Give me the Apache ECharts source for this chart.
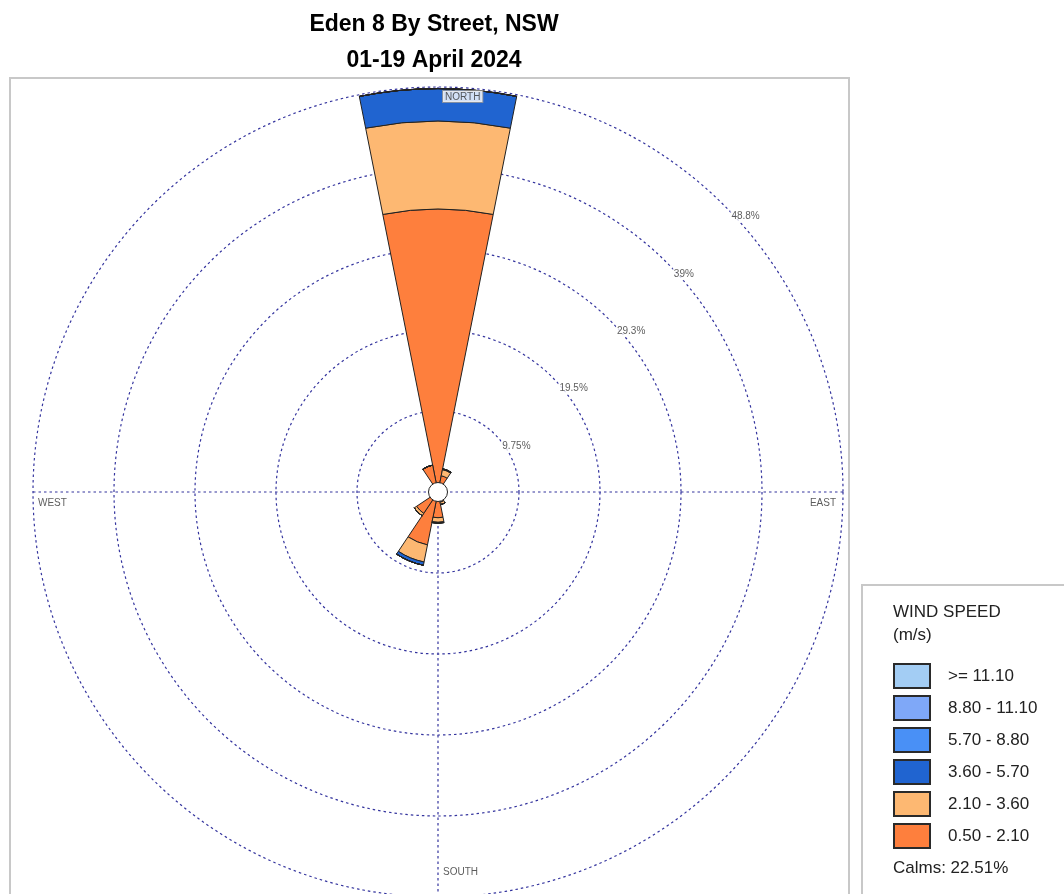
<!DOCTYPE html>
<html>
<head>
<meta charset="utf-8">
<script src="https://cdn.jsdelivr.net/npm/echarts@6/dist/echarts.min.js"></script>
<style>
html,body{margin:0;padding:0;background:#fff;}
#chart{width:1064px;height:894px;}
</style>
</head>
<body>
<div id="chart"></div>
<script>
// ---- data ----
const directions = ['N','NNE','NE','ENE','E','ESE','SE','SSE','S','SSW','SW','WSW','W','WNW','NW','NNW'];
const speedBins = ['0.50 - 2.10','2.10 - 3.60','3.60 - 5.70','5.70 - 8.80','8.80 - 11.10','>= 11.10'];
const bin050_210 = [34.1, 2.0, 0.6, 0.4, 0.4, 0.5, 0.6, 1.25, 3.1, 6.5, 3.1, 0.6, 0.4, 0.4, 0.5, 3.3];
const bin210_360 = [10.6, 0.75, 0, 0, 0, 0, 0, 0.3, 0.55, 2.1, 0.35, 0, 0, 0, 0, 0];
const bin360_570 = [3.9, 0.1, 0, 0, 0, 0, 0, 0, 0.1, 0.4, 0, 0, 0, 0, 0, 0];
const bin570_880 = [0, 0, 0, 0, 0, 0, 0, 0, 0, 0, 0, 0, 0, 0, 0, 0];
const bin880_1110 = [0, 0, 0, 0, 0, 0, 0, 0, 0, 0, 0, 0, 0, 0, 0, 0];
const bin1110_up = [0, 0, 0, 0, 0, 0, 0, 0, 0, 0, 0, 0, 0, 0, 0, 0];
const ringValues = [9.75, 19.5, 29.3, 39, 48.8];
const ringLabels = ['9.75%', '19.5%', '29.3%', '39%', '48.8%'];
const compassLabels = ['NORTH', 'EAST', 'SOUTH', 'WEST'];
const compassAngles = [0, 90, 180, 270];
const calmsText = 'Calms: 22.51%';
const titleLine1 = 'Eden 8 By Street, NSW';
const titleLine2 = '01-19 April 2024';

// ---- chart ----
const binData = [bin050_210, bin210_360, bin360_570, bin570_880, bin880_1110, bin1110_up];
const binColors = ['#fe7f3d', '#fdb872', '#2064d0', '#4990f6', '#7fa8f8', '#a3cdf4'];
const maxR = ringValues[ringValues.length - 1];
const ringStep = 9.76;
const CX = 438, CY = 492, RAD = 405;
const FONT = 'Liberation Sans, Arial, sans-serif';
const gridColor = '#34349e';

const chart = echarts.init(document.getElementById('chart'), null, {renderer: 'canvas'});

const barSeries = binData.map((d, i) => ({
  type: 'bar',
  name: speedBins[i],
  coordinateSystem: 'polar',
  polarIndex: 0,
  stack: 'wind',
  barCategoryGap: '0%',
  data: d,
  itemStyle: {color: binColors[i], borderColor: '#222', borderWidth: 1},
  emphasis: {disabled: true},
  z: 2
}));

const compassLabelCfg = [
  {position: [5, 4], align: 'left', verticalAlign: 'top', backgroundColor: '#fff', borderColor: '#999', borderWidth: 1, padding: [1, 2, 0, 2]},
  {position: [-7, 6], align: 'right', verticalAlign: 'top'},
  {position: [5, -30], align: 'left', verticalAlign: 'top'},
  {position: [5, 6], align: 'left', verticalAlign: 'top'}
];

const option = {
  animation: false,
  backgroundColor: '#fff',
  title: [
    {text: titleLine1, left: 429, top: 8, textAlign: 'center',
     textStyle: {fontFamily: FONT, fontWeight: 'bold', fontSize: 23, color: '#000'}},
    {text: titleLine2, left: 429, top: 44, textAlign: 'center',
     textStyle: {fontFamily: FONT, fontWeight: 'bold', fontSize: 23, color: '#000'}}
  ],
  polar: [
    {center: [CX, CY], radius: RAD},
    {center: [CX, CY], radius: RAD}
  ],
  angleAxis: [
    {polarIndex: 0, type: 'category', data: directions, startAngle: 90 + 360 / directions.length / 2,
     clockwise: true, boundaryGap: true,
     axisLine: {show: false}, axisTick: {show: false}, axisLabel: {show: false}, splitLine: {show: false}},
    {polarIndex: 1, type: 'value', min: 0, max: 360, interval: 90, startAngle: 90, clockwise: true,
     axisLine: {show: false}, axisTick: {show: false}, axisLabel: {show: false},
     splitLine: {show: true, lineStyle: {color: gridColor, width: 1.2, type: [2.5, 3]}}}
  ],
  radiusAxis: [
    {polarIndex: 0, type: 'value', min: 0, max: maxR,
     axisLine: {show: false}, axisTick: {show: false}, axisLabel: {show: false}, splitLine: {show: false}},
    {polarIndex: 1, type: 'value', min: 0, max: maxR, interval: ringStep,
     axisLine: {show: false}, axisTick: {show: false}, axisLabel: {show: false},
     splitLine: {show: true, lineStyle: {color: gridColor, width: 1.2, type: [2.5, 3]}}}
  ],
  legend: {
    orient: 'vertical',
    left: 888, top: 658,
    itemWidth: 36, itemHeight: 24, itemGap: 6,
    icon: 'rect',
    selectedMode: false,
    data: speedBins.slice().reverse(),
    itemStyle: {borderColor: '#2a2a2a', borderWidth: 2},
    textStyle: {fontFamily: FONT, fontSize: 17, color: '#222', padding: [0, 0, 0, 13]}
  },
  graphic: [
    {type: 'rect', shape: {x: 10, y: 78, width: 839, height: 840}, style: {fill: 'none', stroke: '#c8c8c8', lineWidth: 2}, z: 0},
    {type: 'rect', shape: {x: 862, y: 585, width: 220, height: 330}, style: {fill: 'none', stroke: '#c8c8c8', lineWidth: 2}, z: 0},
    {type: 'text', left: 893, top: 601, style: {text: 'WIND SPEED\n(m/s)', fontFamily: FONT, fontSize: 17, lineHeight: 23, fill: '#222'}},
    {type: 'text', left: 893, top: 860, style: {text: calmsText, fontFamily: FONT, fontSize: 17, fill: '#222'}}
  ],
  series: barSeries.concat([
    {
      type: 'scatter', coordinateSystem: 'polar', polarIndex: 1,
      data: [[0, 0]], symbol: 'circle', symbolSize: 19,
      itemStyle: {color: '#ffffff', borderColor: '#222', borderWidth: 1, opacity: 1},
      silent: true, z: 10
    },
    {
      type: 'scatter', coordinateSystem: 'polar', polarIndex: 1,
      data: ringValues.map(r => [r, 45]), symbolSize: 0,
      itemStyle: {color: 'transparent'},
      label: {show: true, formatter: p => ringLabels[p.dataIndex], position: [6, 5], align: 'left', verticalAlign: 'top',
        fontFamily: FONT, fontSize: 10, color: '#333', backgroundColor: '#fff', padding: [1, 1, 1, 1]},
      silent: true, z: 6
    },
    {
      type: 'scatter', coordinateSystem: 'polar', polarIndex: 1,
      data: compassAngles.map((a, i) => ({
        value: [maxR, a],
        label: Object.assign({show: true, formatter: compassLabels[i], fontFamily: FONT, fontSize: 10, color: '#333'}, compassLabelCfg[i])
      })),
      symbolSize: 0,
      itemStyle: {color: 'transparent'},
      silent: true, z: 6
    }
  ])
};

chart.setOption(option);
</script>
</body>
</html>
